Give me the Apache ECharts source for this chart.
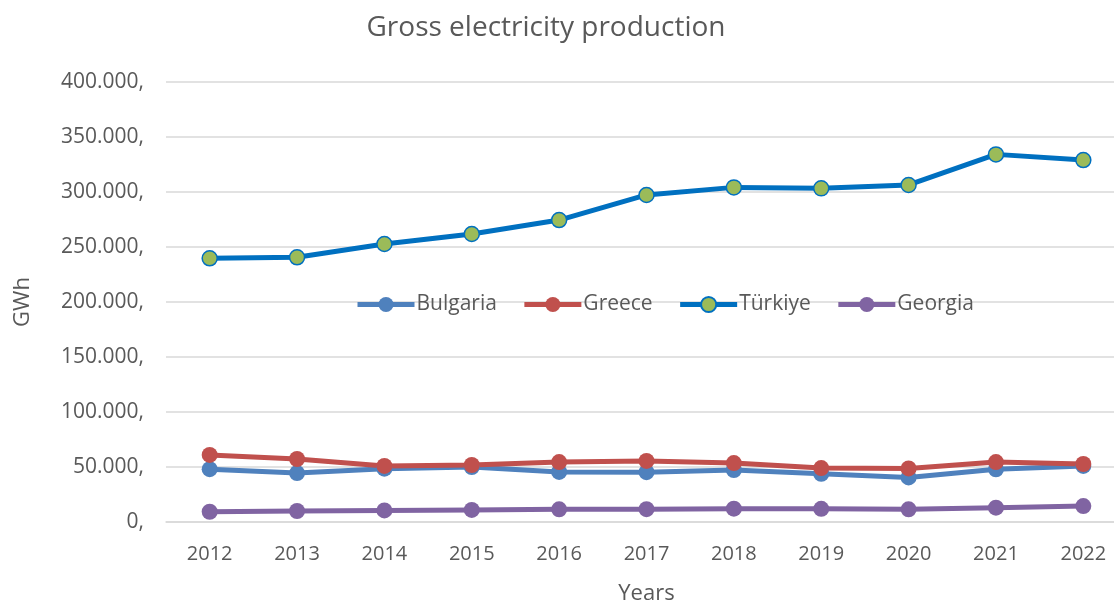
<!DOCTYPE html>
<html><head><meta charset="utf-8">
<script src="https://cdn.jsdelivr.net/npm/echarts@6/dist/echarts.min.js"></script>
<style>html,body{margin:0;padding:0;background:#fff}#c{width:1114px;height:600px}</style>
</head><body><div id="c"></div>
<script>
const years = ['2012','2013','2014','2015','2016','2017','2018','2019','2020','2021','2022'];
const bulgaria = [48000, 44500, 48500, 50000, 45500, 45300, 47300, 43800, 40500, 47900, 51000];
const greece   = [61000, 57300, 51000, 51800, 54500, 55500, 53600, 49000, 48700, 54500, 52700];
const turkiye  = [239700, 240600, 252700, 261800, 274500, 297300, 304200, 303300, 306400, 334200, 329000];
const georgia  = [9300, 10000, 10500, 11000, 11500, 11700, 12100, 12000, 11500, 13000, 14500];

function fmt(v){
  const s = String(Math.round(v)).replace(/\B(?=(\d{3})+(?!\d))/g, '.');
  return s + ',';
}
const font = 'Open Sans, Noto Sans, sans-serif';
const txt = '#595959';
const chart = echarts.init(document.getElementById('c'));
function ser(name, data, color, fill, size){
  return {
    name, type:'line', data,
    symbol:'circle', symbolSize:size,
    lineStyle:{color, width:5},
    itemStyle:{color: fill || color, borderColor: color, borderWidth: fill ? 1.5 : 0},
    emphasis:{disabled:true}
  };
}
chart.setOption({
  animation:false,
  title:{text:'Gross electricity production', left:541, top:9, textAlign:'center',
    textStyle:{fontFamily:font, fontSize:28, fontWeight:'normal', color:txt}},
  legend:{top:289, left:350, itemWidth:57, itemHeight:19, itemGap:25,
    lineStyle:{width:5},
    textStyle:{fontFamily:font, fontSize:21, color:txt, padding:[0,0,0,-3]},
    data:['Bulgaria','Greece','Türkiye','Georgia']},
  grid:{left:166, top:82, width:961, height:440, containLabel:false, outerBoundsMode:'none'},
  xAxis:{type:'category', data:years, boundaryGap:true,
    name:'Years', nameLocation:'middle', nameGap:61,
    nameTextStyle:{fontFamily:font, fontSize:22, color:txt},
    axisLine:{show:true, lineStyle:{color:'#D9D9D9', width:1.5}},
    axisTick:{show:false},
    axisLabel:{fontFamily:font, fontSize:20, color:txt, margin:22}},
  yAxis:{type:'value', min:0, max:400000, interval:50000,
    name:'GWh', nameLocation:'middle', nameGap:132, nameRotate:90,
    nameTextStyle:{fontFamily:font, fontSize:22, color:txt},
    axisLine:{show:false}, axisTick:{show:false},
    splitLine:{lineStyle:{color:'#D9D9D9', width:1.5}},
    axisLabel:{fontFamily:font, fontSize:21, color:txt, margin:22, formatter:fmt}},
  series:[
    ser('Bulgaria', bulgaria, '#4F81BD', null, 16),
    ser('Greece', greece, '#C0504D', null, 16),
    ser('Türkiye', turkiye, '#0070C0', '#9BBB59', 15),
    ser('Georgia', georgia, '#8064A2', null, 16)
  ]
});
</script></body></html>
